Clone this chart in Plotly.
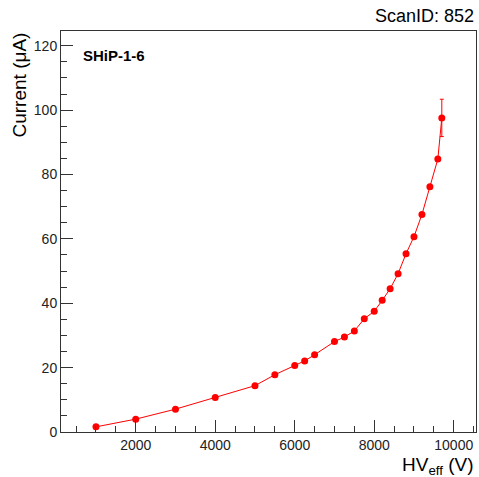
import plotly.graph_objects as go

hv = [1000, 2000, 3000, 4000, 5000, 5500, 6000, 6250, 6500, 7000, 7250, 7500,
      7750, 8000, 8200, 8400, 8600, 8800, 9000, 9200, 9400, 9600, 9700]
current = [1.6, 4.0, 7.1, 10.7, 14.4, 17.8, 20.7, 22.1, 24.0, 28.1, 29.5, 31.4,
           35.2, 37.5, 40.9, 44.5, 49.2, 55.4, 60.7, 67.6, 76.2, 84.8, 97.6]
current_err = [0, 0, 0, 0, 0, 0, 0, 0, 0, 0, 0, 0,
               0, 0, 0, 0, 0, 0, 0, 0, 0, 0, 5.8]

FONT = "Liberation Sans, Arial, Helvetica, sans-serif"
AX = "#333333"

fig = go.Figure()
fig.add_trace(go.Scatter(
    x=hv, y=current, mode="lines+markers",
    line=dict(color="red", width=1),
    marker=dict(color="red", size=7, symbol="circle"),
    error_y=dict(type="data", array=current_err, visible=True,
                 color="red", thickness=1, width=2),
    showlegend=False,
))

axis_common = dict(
    showline=True, linecolor=AX, linewidth=1, mirror=True,
    ticks="inside", tickcolor=AX, ticklen=12, tickwidth=1,
    showgrid=False, zeroline=False, tickformat="d",
    tickfont=dict(family=FONT, size=14, color="#222222"),
)

fig.update_layout(
    width=479, height=477,
    margin=dict(l=61, r=3, t=31, b=45, autoexpand=False),
    paper_bgcolor="white", plot_bgcolor="white",
    font=dict(family=FONT),
    xaxis=dict(range=[120, 10560], tick0=0, dtick=2000,
               minor=dict(ticks="inside", dtick=500, ticklen=6, tickcolor=AX),
               **axis_common),
    yaxis=dict(range=[0, 124.6], tick0=0, dtick=20,
               minor=dict(ticks="inside", dtick=5, ticklen=6, tickcolor=AX),
               **axis_common),
    annotations=[
        dict(text="ScanID: 852", xref="paper", yref="paper", x=1, y=1,
             xanchor="right", yanchor="bottom", yshift=3, showarrow=False,
             font=dict(family=FONT, size=18, color="black")),
        dict(text="HV<sub>eff</sub> (V)", xref="paper", yref="paper", x=1, y=0,
             xanchor="right", yanchor="top", yshift=-20, showarrow=False,
             font=dict(family=FONT, size=19, color="black")),
        dict(text="Current (μA)", xref="paper", yref="paper", x=0, y=1,
             xanchor="center", yanchor="top", xshift=-42, showarrow=False,
             textangle=-90,
             font=dict(family=FONT, size=19, color="black")),
        dict(text="<b>SHiP-1-6</b>", xref="paper", yref="paper", x=0, y=1,
             xanchor="left", yanchor="top", xshift=20, yshift=-14,
             showarrow=False,
             font=dict(family=FONT, size=15, color="black")),
    ],
)

fig.write_html("out.html", config={"displayModeBar": False},
               post_script="document.body.style.margin='0';")
